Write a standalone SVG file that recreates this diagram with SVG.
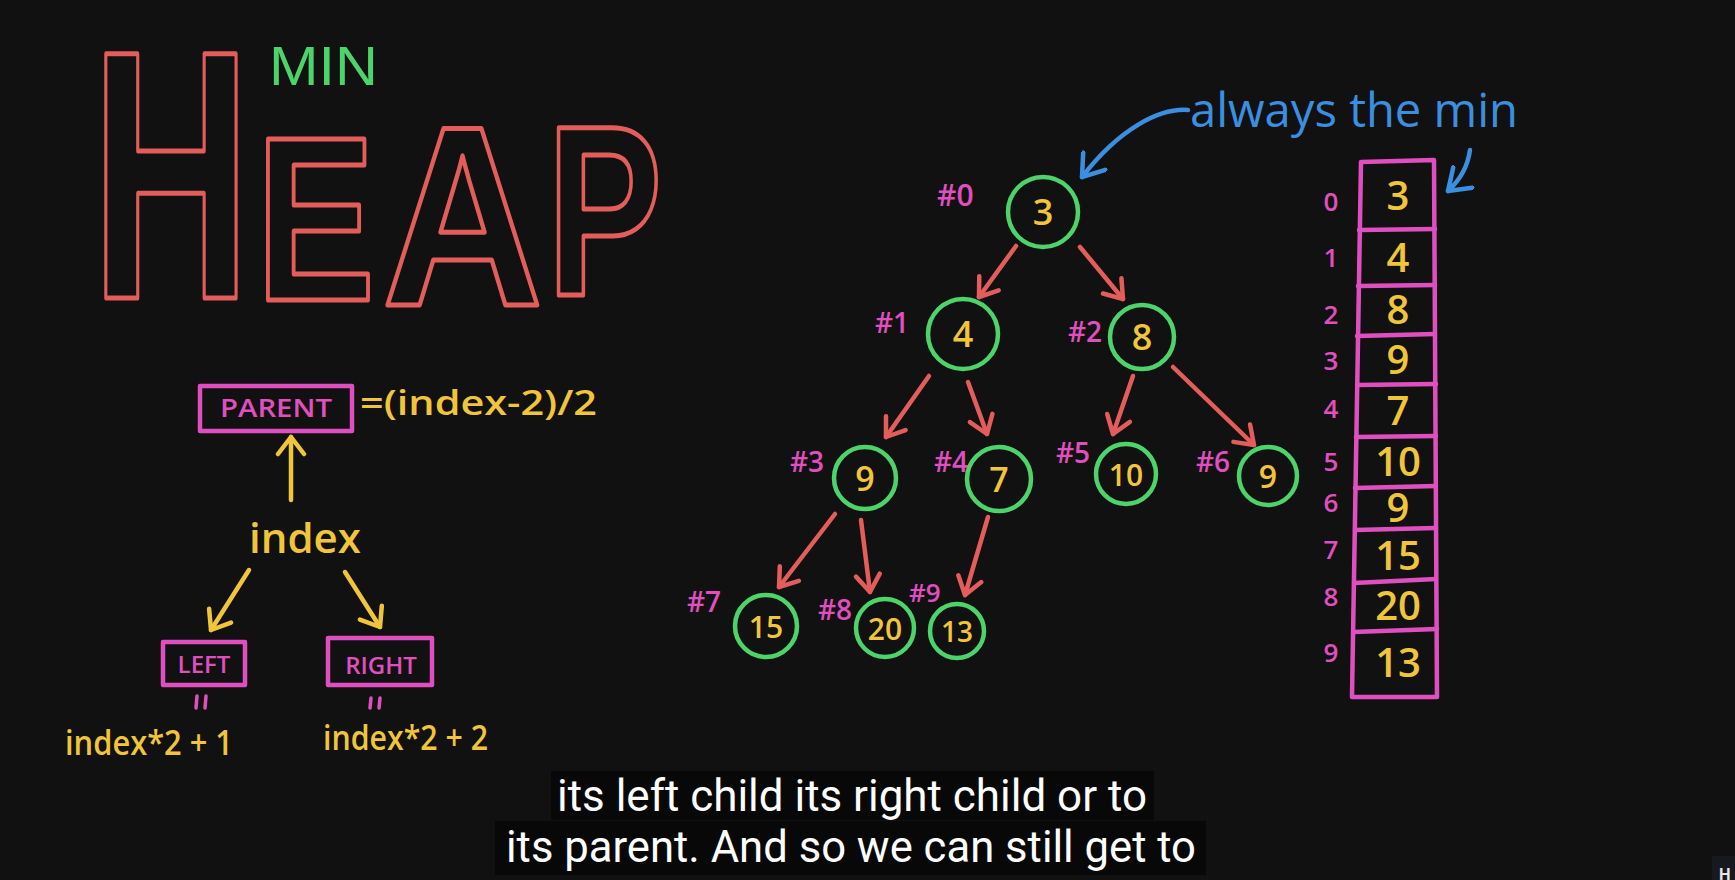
<svg xmlns="http://www.w3.org/2000/svg" width="1735" height="880" viewBox="0 0 1735 880">
<defs>
<style>
.heap{fill:none;stroke:#e35d5b;stroke-width:5;stroke-linejoin:round;font-family:"Liberation Sans",Arial,sans-serif;font-weight:bold}
.node circle{fill:none;stroke:#4cd36a;stroke-width:4.5}
.val{fill:#f0c53a;font-family:"Open Sans","DejaVu Sans",sans-serif;font-weight:600;text-anchor:middle}
.lbl{fill:#e04fbf;font-family:"Open Sans","DejaVu Sans",sans-serif;font-weight:600}
.ylw{fill:#f0c53a;font-family:"Open Sans","DejaVu Sans",sans-serif;font-weight:600}
.pbox{fill:none;stroke:#e04fbf;stroke-width:4.5;stroke-linejoin:round}
.red{fill:none;stroke:#e35d5b;stroke-width:4.5;stroke-linecap:round;marker-end:url(#mr)}
.yel{fill:none;stroke:#f0c53a;stroke-width:4.5;stroke-linecap:round;marker-end:url(#my)}
.blu{fill:none;stroke:#3b8fe0;stroke-width:4.5;stroke-linecap:round;marker-end:url(#mb)}
.cap{fill:#ffffff;font-family:Roboto,"Liberation Sans",sans-serif;font-size:44px;text-anchor:middle}
</style>
<marker id="mr" markerUnits="userSpaceOnUse" viewBox="-22 -16 26 32" refX="0" refY="0" markerWidth="26" markerHeight="32" orient="auto"><path d="M-17,-12 L0,0 L-17,12" fill="none" stroke="#e35d5b" stroke-width="4.5" stroke-linecap="round" stroke-linejoin="round"/></marker>
<marker id="my" markerUnits="userSpaceOnUse" viewBox="-22 -16 26 32" refX="0" refY="0" markerWidth="26" markerHeight="32" orient="auto"><path d="M-17,-13 L0,0 L-17,13" fill="none" stroke="#f0c53a" stroke-width="4.5" stroke-linecap="round" stroke-linejoin="round"/></marker>
<marker id="mb" markerUnits="userSpaceOnUse" viewBox="-22 -16 26 32" refX="0" refY="0" markerWidth="26" markerHeight="32" orient="auto"><path d="M-20,-14 L0,0 L-20,14" fill="none" stroke="#3b8fe0" stroke-width="4.5" stroke-linecap="round" stroke-linejoin="round"/></marker>
</defs>
<rect x="0" y="0" width="1735" height="880" fill="#111111"/>

<g id="title">
<text x="269" y="85" font-family="Liberation Sans,Arial,sans-serif" font-size="56" fill="#4cd36a" textLength="109" lengthAdjust="spacingAndGlyphs">MIN</text>
<text class="heap" x="91" y="298" font-size="355" stroke-width="7" textLength="160" lengthAdjust="spacingAndGlyphs">H</text>
<text class="heap" x="256" y="300" font-size="233" stroke-width="6" textLength="119" lengthAdjust="spacingAndGlyphs">E</text>
<text class="heap" x="382" y="305" font-size="256" stroke-width="5.5" textLength="161" lengthAdjust="spacingAndGlyphs">A</text>
<text class="heap" x="547" y="295" font-size="244" stroke-width="6.5" textLength="115" lengthAdjust="spacingAndGlyphs">P</text>
</g>

<g id="parent">
<rect class="pbox" x="200" y="386" width="152" height="45"/>
<text class="lbl" x="276" y="417" font-size="25" text-anchor="middle" textLength="112" lengthAdjust="spacingAndGlyphs">PARENT</text>
<text class="ylw" x="360" y="415" font-size="34" textLength="237" lengthAdjust="spacingAndGlyphs">=(index-2)/2</text>
</g>
<g id="index">
<text class="ylw" x="305" y="553" font-size="42" text-anchor="middle">index</text>
</g>
<g id="left">
<rect class="pbox" x="163" y="642" width="82" height="43"/>
<text class="lbl" x="204" y="673" font-size="24" text-anchor="middle">LEFT</text>
<path d="M197,696 L196,708 M206,696 L205,708" stroke="#e04fbf" stroke-width="3.5" stroke-linecap="round"/>
<text class="ylw" x="65" y="755" font-size="34" textLength="168" lengthAdjust="spacingAndGlyphs">index*2 + 1</text>
</g>
<g id="right">
<rect class="pbox" x="328" y="638" width="104" height="47"/>
<text class="lbl" x="381" y="674" font-size="24" text-anchor="middle">RIGHT</text>
<path d="M371,698 L370,708 M380,698 L379,708" stroke="#e04fbf" stroke-width="3.5" stroke-linecap="round"/>
<text class="ylw" x="323" y="750" font-size="34" textLength="165" lengthAdjust="spacingAndGlyphs">index*2 + 2</text>
</g>

<g id="tree">
<g id="n0" class="node"><circle cx="1043" cy="212" r="35"/><text class="val" x="1043" y="225" font-size="36">3</text><text class="lbl" x="937" y="206" font-size="30">#0</text></g>
<g id="n1" class="node"><circle cx="963" cy="334" r="35"/><text class="val" x="963" y="347" font-size="36">4</text><text class="lbl" x="875" y="333" font-size="28">#1</text></g>
<g id="n2" class="node"><circle cx="1142" cy="337" r="32"/><text class="val" x="1142" y="350" font-size="36">8</text><text class="lbl" x="1068" y="342" font-size="28">#2</text></g>
<g id="n3" class="node"><circle cx="865" cy="478" r="31"/><text class="val" x="865" y="491" font-size="34">9</text><text class="lbl" x="790" y="472" font-size="28">#3</text></g>
<g id="n4" class="node"><circle cx="999" cy="479" r="32"/><text class="val" x="999" y="492" font-size="34">7</text><text class="lbl" x="934" y="472" font-size="28">#4</text></g>
<g id="n5" class="node"><circle cx="1126" cy="474" r="30"/><text class="val" x="1126" y="486" font-size="30">10</text><text class="lbl" x="1056" y="463" font-size="28">#5</text></g>
<g id="n6" class="node"><circle cx="1268" cy="476" r="29"/><text class="val" x="1268" y="488" font-size="32">9</text><text class="lbl" x="1196" y="472" font-size="28">#6</text></g>
<g id="n7" class="node"><circle cx="766" cy="626" r="31"/><text class="val" x="766" y="638" font-size="30">15</text><text class="lbl" x="687" y="612" font-size="28">#7</text></g>
<g id="n8" class="node"><circle cx="885" cy="628" r="29"/><text class="val" x="885" y="640" font-size="30">20</text><text class="lbl" x="818" y="620" font-size="28">#8</text></g>
<g id="n9" class="node"><circle cx="957" cy="631" r="27"/><text class="val" x="957" y="642" font-size="28">13</text><text class="lbl" x="909" y="602" font-size="26">#9</text></g>
</g>

<g id="array">
<path class="pbox" d="M1361,162 L1434,160 L1437,697 L1352,697 Z"/>
<path d="M1359,230 L1435,229 M1358,286 L1435,285 M1357,336 L1435,334 M1357,385 L1436,384 M1356,437 L1436,436 M1355,488 L1436,486 M1355,530 L1436,528 M1354,583 L1436,579 M1353,632 L1437,629" stroke="#e04fbf" stroke-width="4.5" stroke-linecap="round" fill="none"/>
<g class="val" font-size="40">
<text x="1398" y="210">3</text>
<text x="1398" y="272">4</text>
<text x="1398" y="324">8</text>
<text x="1398" y="374">9</text>
<text x="1398" y="425">7</text>
<text x="1398" y="476">10</text>
<text x="1398" y="522">9</text>
<text x="1398" y="570">15</text>
<text x="1398" y="620">20</text>
<text x="1398" y="677">13</text>
</g>
<g class="lbl" font-size="26" text-anchor="middle">
<text x="1331" y="211">0</text>
<text x="1331" y="267">1</text>
<text x="1331" y="324">2</text>
<text x="1331" y="370">3</text>
<text x="1331" y="418">4</text>
<text x="1331" y="471">5</text>
<text x="1331" y="512">6</text>
<text x="1331" y="559">7</text>
<text x="1331" y="606">8</text>
<text x="1331" y="662">9</text>
</g>
</g>

<g id="note">
<text x="1190" y="127" font-family="Open Sans,DejaVu Sans,sans-serif" font-size="48" fill="#3b8fe0" textLength="328" lengthAdjust="spacingAndGlyphs">always the min</text>
</g>

<g id="connectors">
<path class="red" d="M1016,246 L979,297"/>
<path class="red" d="M1080,247 L1123,299"/>
<path class="red" d="M929,376 L886,437"/>
<path class="red" d="M968,382 L987,434"/>
<path class="red" d="M1133,376 L1113,434"/>
<path class="red" d="M1173,367 L1254,445"/>
<path class="red" d="M835,514 L779,587"/>
<path class="red" d="M861,520 L870,592"/>
<path class="red" d="M988,517 L965,595"/>
<path class="yel" d="M291,500 L291,437"/>
<path class="yel" d="M249,570 L211,630"/>
<path class="yel" d="M345,572 L380,627"/>
<path class="blu" d="M1188,110 C1160,108 1120,128 1082,177"/>
<path class="blu" d="M1470,150 C1468,165 1460,180 1448,191"/>
</g>

<g id="captions">
<rect x="551" y="771" width="603" height="49" fill="#080808"/>
<rect x="495" y="821" width="711" height="54" fill="#080808"/>
<text class="cap" x="852" y="811" textLength="590" lengthAdjust="spacingAndGlyphs">its left child its right child or to</text>
<text class="cap" x="851" y="862" textLength="690" lengthAdjust="spacingAndGlyphs">its parent. And so we can still get to</text>
<rect x="1712" y="856" width="23" height="24" fill="#161a1e"/>
<text x="1719" y="880" font-family="Liberation Sans,Arial,sans-serif" font-weight="bold" font-size="16" fill="#e8e8e8">H</text>
</g>
</svg>
